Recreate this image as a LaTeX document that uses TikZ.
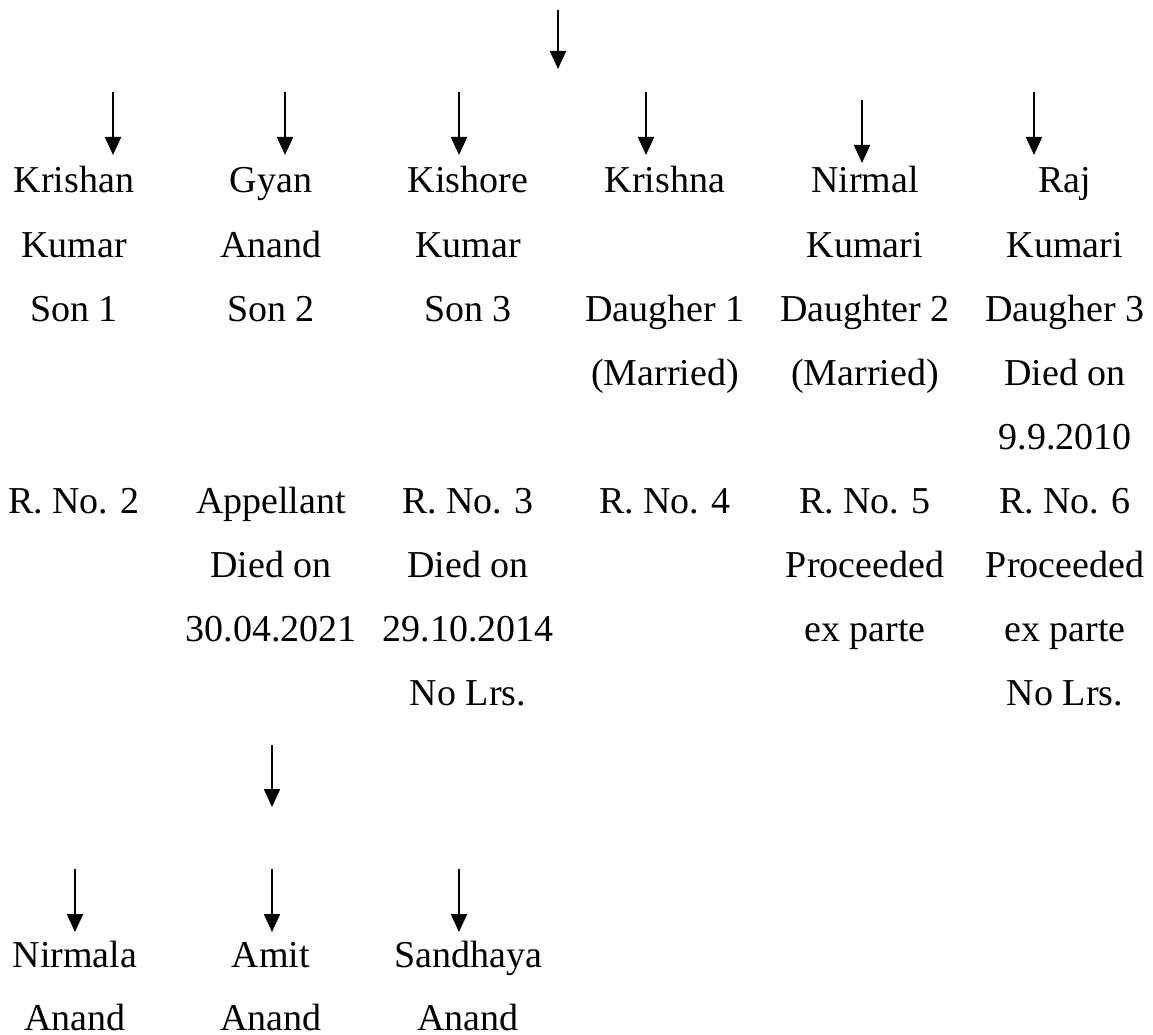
\documentclass[tikz,border=0pt]{standalone}
\usepackage{fontspec}
\setmainfont{Liberation Serif}
\usepackage{tikz}
\usetikzlibrary{arrows.meta}

\begin{document}
\begin{tikzpicture}[x=1pt,y=-1pt,
  lbl/.style={anchor=base,inner sep=0pt,font=\fontsize{38}{44}\selectfont},
  arr/.style={line width=2pt,-{Triangle[length=18pt,width=16pt]}}]
  \useasboundingbox (0,0) rectangle (1153,1035);

  % arrows
  \coordinate (tops) at (558,10);  \coordinate (tope) at (558,69);
  \draw[arr] (tops) -- (tope);
  \foreach \n/\x in {s1/113,s2/285,s3/459,d1/646,d3/1034} {
    \coordinate (\n s) at (\x,92);
    \coordinate (\n e) at (\x,155);
    \draw[arr] (\n s) -- (\n e);
  }
  \coordinate (d2s) at (862,100);  \coordinate (d2e) at (862,163);
  \draw[arr] (d2s) -- (d2e);
  \coordinate (gs) at (272,745);  \coordinate (ge) at (272,807);
  \draw[arr] (gs) -- (ge);
  \foreach \n/\x in {w/75,a/272,h/459} {
    \coordinate (\n s) at (\x,869);
    \coordinate (\n e) at (\x,932);
    \draw[arr] (\n s) -- (\n e);
  }

  % columns
  \foreach \r/\t in {0/Krishan,1/Kumar,2/Son 1,5/R. No. 2}
    \node[lbl] (s1r\r) at (74,{193+64*\r}) {\t};
  \foreach \r/\t in {0/Gyan,1/Anand,2/Son 2,5/Appellant,6/Died on,7/30.04.2021}
    \node[lbl] (s2r\r) at (271,{193+64*\r}) {\t};
  \foreach \r/\t in {0/Kishore,1/Kumar,2/Son 3,5/R. No. 3,6/Died on,7/29.10.2014,8/No Lrs.}
    \node[lbl] (s3r\r) at (468,{193+64*\r}) {\t};
  \foreach \r/\t in {0/Krishna,2/Daugher 1,3/(Married),5/R. No. 4}
    \node[lbl] (d1r\r) at (665,{193+64*\r}) {\t};
  \foreach \r/\t in {0/Nirmal,1/Kumari,2/Daughter 2,3/(Married),5/R. No. 5,6/Proceeded,7/ex parte}
    \node[lbl] (d2r\r) at (865,{193+64*\r}) {\t};
  \foreach \r/\t in {0/Raj,1/Kumari,2/Daugher 3,3/Died on,4/9.9.2010,5/R. No. 6,6/Proceeded,7/ex parte,8/No Lrs.}
    \node[lbl] (d3r\r) at (1065,{193+64*\r}) {\t};

  % grandchildren
  \node[lbl] (w1) at (75,967) {Nirmala};
  \node[lbl] (w2) at (75,1030) {Anand};
  \node[lbl] (a1) at (271,967) {Amit};
  \node[lbl] (a2) at (271,1030) {Anand};
  \node[lbl] (h1) at (468,967) {Sandhaya};
  \node[lbl] (h2) at (468,1030) {Anand};
\end{tikzpicture}
\end{document}
